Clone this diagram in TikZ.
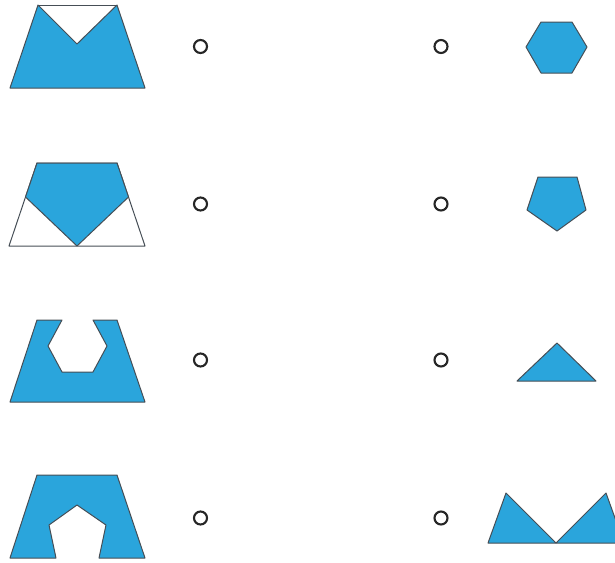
\documentclass[tikz,border=0pt]{standalone}
\definecolor{shapeblue}{RGB}{42,165,220}
\definecolor{edgegrey}{RGB}{70,78,86}
\begin{document}
\begin{tikzpicture}[x=1pt,y=-1pt,
  piece/.style={fill=shapeblue,draw=edgegrey,line width=1pt,line join=round},
  outline/.style={draw=edgegrey,line width=1pt,line join=round},
  choice/.style={circle,draw=black!85,line width=2.1pt,minimum size=13pt,inner sep=0pt}]
\useasboundingbox (0,0) rectangle (615,562);
% row 1
\filldraw[piece] (38,5) -- (77,44) -- (117,5) -- (145,88) -- (10,88) -- cycle;
\draw[outline] (38,5) -- (117,5);
% row 2
\draw[outline] (37,163) -- (117,163) -- (145,246) -- (9,246) -- cycle;
\filldraw[piece] (37,163) -- (117,163) -- (128.5,197) -- (77,246) -- (25.5,197) -- cycle;
% row 3
\filldraw[piece] (37,320) -- (62,320) -- (48,346) -- (62,372) -- (93,372) -- (107,346) -- (93,320) -- (117,320) -- (145,402) -- (10,402) -- cycle;
% row 4
\filldraw[piece] (37,475) -- (117,475) -- (145,558) -- (99,558) -- (106,525) -- (77,505) -- (49,525) -- (56,558) -- (10,558) -- cycle;
% right column
\filldraw[piece] (541,22) -- (572,22) -- (587,47) -- (572,73) -- (541,73) -- (526,47) -- cycle;
\filldraw[piece] (538,177) -- (577,177) -- (586,210) -- (557,231) -- (527,210) -- cycle;
\filldraw[piece] (557,343) -- (596,381) -- (517,381) -- cycle;
\begin{scope}
\clip (0,0) rectangle (615,562);
\filldraw[piece] (488,543) -- (506,493) -- (556,543) -- cycle;
\filldraw[piece] (556,543) -- (606,493) -- (624,543) -- cycle;
\end{scope}
% option circles
\node[choice] (c1l) at (200.5,46.5) {};
\node[choice] (c1r) at (441,46.5) {};
\node[choice] (c2l) at (200.5,204) {};
\node[choice] (c2r) at (441,204) {};
\node[choice] (c3l) at (200.5,360) {};
\node[choice] (c3r) at (441,360) {};
\node[choice] (c4l) at (200.5,518) {};
\node[choice] (c4r) at (441,518) {};
\end{tikzpicture}
\end{document}
